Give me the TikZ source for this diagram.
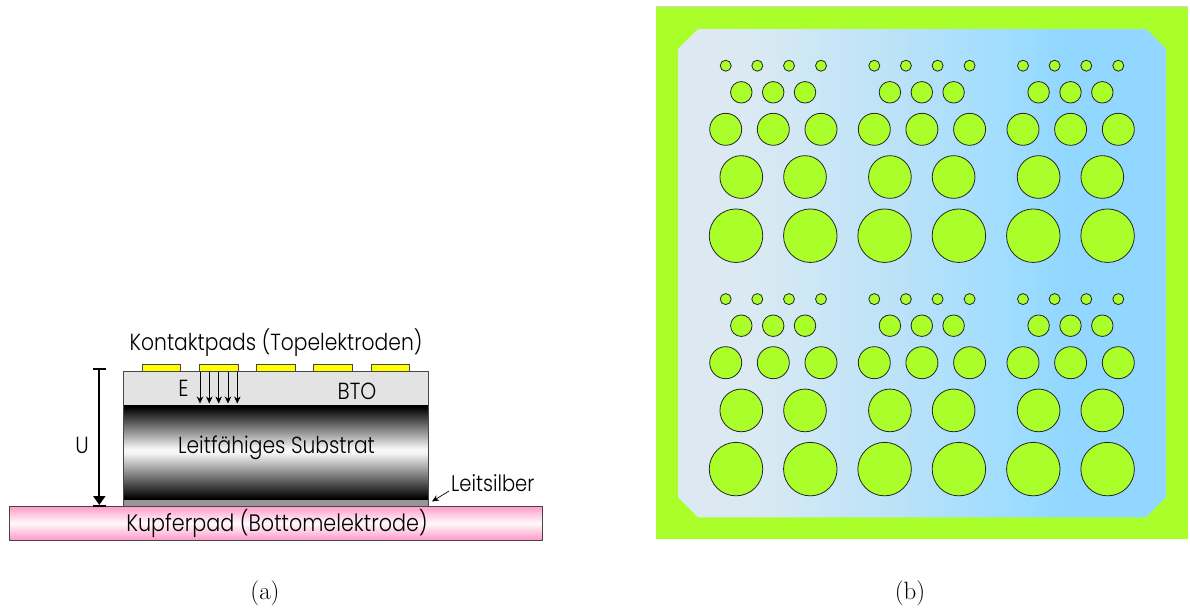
\documentclass[tikz,border=0pt]{standalone}
\usepackage{fontspec}
\setsansfont{Poppins Light}[FakeStretch=0.87]
\usetikzlibrary{arrows.meta}
\definecolor{limeg}{RGB}{170,255,42}
\definecolor{padyellow}{RGB}{255,255,0}
\definecolor{btogray}{RGB}{227,227,227}
\definecolor{silvergray}{RGB}{150,150,150}
\definecolor{edgegray}{RGB}{70,70,70}
\pgfdeclareverticalshading{substrateshade}{100bp}{rgb(0bp)=(0,0,0); rgb(26bp)=(0,0,0); rgb(50bp)=(.97,.97,.97); rgb(52bp)=(.97,.97,.97); rgb(74bp)=(0,0,0); rgb(100bp)=(0,0,0)}
\pgfdeclareverticalshading{coppershade}{100bp}{rgb(0bp)=(1,.60,.78); rgb(25bp)=(1,.60,.78); rgb(50bp)=(1,.98,.99); rgb(75bp)=(1,.60,.78); rgb(100bp)=(1,.60,.78)}
\pgfdeclarehorizontalshading{waferhade}{100bp}{rgb(0bp)=(.863,.914,.949); rgb(25bp)=(.863,.914,.949); rgb(32bp)=(.86,.915,.95); rgb(37bp)=(.82,.91,.958); rgb(41bp)=(.78,.90,.965); rgb(48bp)=(.73,.885,.972); rgb(54bp)=(.67,.875,.99); rgb(60bp)=(.615,.863,1); rgb(65bp)=(.57,.843,1); rgb(100bp)=(.57,.843,1)}
\tikzset{
  lbl/.style={font=\sffamily\fontsize{23.3}{23.3}\selectfont, text=black, inner sep=0pt},
  caplbl/.style={font=\fontsize{25}{25}\selectfont, inner sep=0pt},
  padbox/.style={draw=edgegray, fill=padyellow, line width=.7pt},
  efield/.style={draw=black, line width=.6pt, -{Stealth[length=7pt,width=6.5pt]}},
  uline/.style={draw=black, line width=2pt},
  hole/.style={circle, draw=black!85, fill=limeg, line width=.8pt, inner sep=0pt, outer sep=0pt},
}
\begin{document}
\begin{tikzpicture}[x=1pt,y=-1pt]
\useasboundingbox (0,0) rectangle (1190,608);
% left: layer stack
\shade[shading=coppershade] (9,506) rectangle (542.7,540.3);
\draw[edgegray, line width=.8pt] (9,506) rectangle (542.7,540.3);
\fill[btogray] (123.3,371.7) rectangle (428.3,405);
\shade[shading=substrateshade] (123.3,405) rectangle (428.3,500.3);
\fill[silvergray] (123.3,500.3) rectangle (428.3,506);
\draw[edgegray, line width=.8pt] (123.3,506) -- (123.3,371.7) -- (428.3,371.7) -- (428.3,506);
\foreach \n/\xa/\xb in {1/142.3/180.7,2/199.7/238,3/256.7/295,4/313.7/352.3,5/371/409.7}
  \draw[padbox] (\xa,364.3) rectangle (\xb,371.7);
% E-field arrows
\foreach \n/\xa in {1/200,2/209.3,3/218.7,4/228,5/237.3}{
  \coordinate (ea\n) at (\xa,371.7);
  \coordinate (eb\n) at (\xa,403.5);
  \draw[efield] (ea\n) -- (eb\n);
}
% U arrow
\coordinate (utop) at (99.3,369.3);
\coordinate (ubot) at (99.3,505);
\draw[uline,-{Stealth[length=9pt,width=12pt,inset=0pt]}] (utop) -- (ubot);
\draw[uline] (93,369.3) -- (106,369.3);
\draw[uline] (93,506) -- (106,506);
% Leitsilber arrow
\node[lbl, font=\sffamily\fontsize{22.5}{22.5}\selectfont, anchor=base west] (ls) at (451,491.7) {Leitsilber};
\coordinate (lsa) at (449,491);
\coordinate (lsb) at (432,501.5);
\draw[black, line width=.7pt, -{Stealth[length=7pt,width=6pt]}] (lsa) -- (lsb);
% labels
\node[lbl, anchor=base] (kp) at (276,350) {Kontaktpads (Topelektroden)};
\node[lbl, anchor=base] (e) at (183.5,396.7) {E};
\node[lbl, anchor=base] (bto) at (357,399) {BTO};
\node[lbl, anchor=base] (u) at (82,453) {U};
\node[lbl, anchor=base] (ls2) at (276.5,453) {Leitfähiges Substrat};
\node[lbl, font=\sffamily\fontsize{23.8}{23.8}\selectfont, anchor=base] (cu) at (277,531.7) {Kupferpad (Bottomelektrode)};
\node[caplbl, anchor=base] (ca) at (265,599) {(a)};
\node[caplbl, anchor=base] (cb) at (910,599) {(b)};
% right: wafer
\fill[black!18] (656,6) rectangle (1188.3,7);
\fill[limeg] (656,6.7) rectangle (1188.3,539);
\shade[shading=waferhade] (698,29) -- (1146,29) -- (1166,49) -- (1166,497) -- (1146,517.3) -- (698,517.3) -- (678,497) -- (678,49) -- cycle;
\foreach \bx/\dx in {1/0,2/148.6,3/297.3}{
 \foreach \by/\dy in {1/0,2/233.4}{
  \begin{scope}[shift={(\dx,\dy)}]
   \foreach \i/\xx in {1/725.7,2/757.3,3/789,4/821}
     \node[hole, minimum size=11pt] (s\bx\by\i) at (\xx,65.7) {};
   \foreach \i/\xx in {1/741.3,2/773.2,3/805}
     \node[hole, minimum size=21.5pt] (m\bx\by\i) at (\xx,92.3) {};
   \foreach \i/\xx in {1/725.7,2/773.3,3/821}
     \node[hole, minimum size=32pt] (l\bx\by\i) at (\xx,129.3) {};
   \foreach \i/\xx in {1/741.3,2/805}
     \node[hole, minimum size=42.7pt] (x\bx\by\i) at (\xx,177) {};
   \foreach \i/\xx in {1/736,2/810.3}
     \node[hole, minimum size=53.5pt] (h\bx\by\i) at (\xx,235.7) {};
  \end{scope}
 }
}
\end{tikzpicture}
\end{document}
